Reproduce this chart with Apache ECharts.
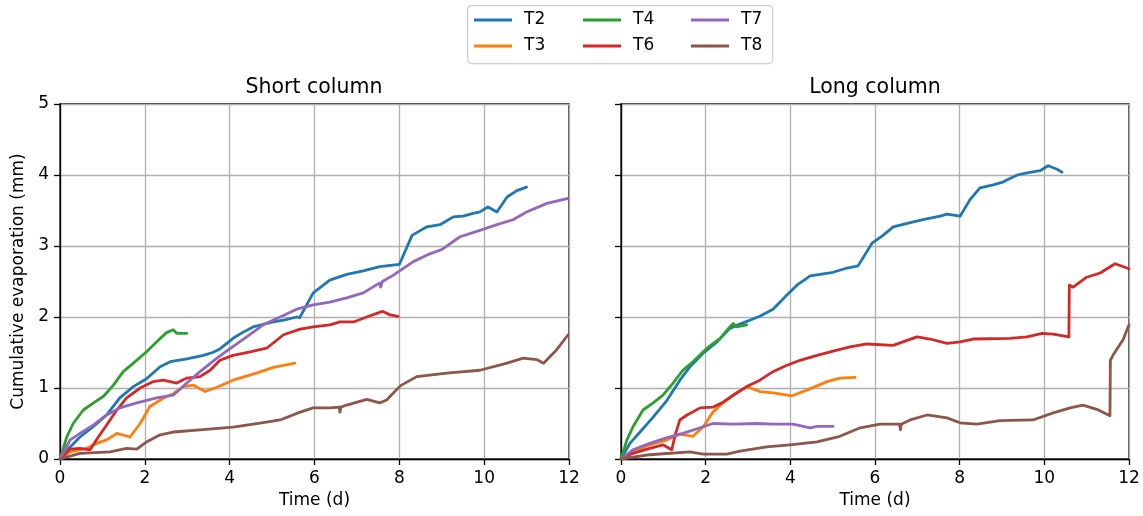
<!DOCTYPE html>
<html>
<head>
<meta charset="utf-8">
<script src="https://cdn.jsdelivr.net/npm/echarts@6/dist/echarts.min.js"></script>
<style>
html,body{margin:0;padding:0;background:#fff;}
#chart{width:1143px;height:516px;}
</style>
</head>
<body>
<div id="chart"></div>
<script>
// ---- Data (time in days, cumulative evaporation in mm) ----
const seriesNames = ['T2', 'T3', 'T4', 'T6', 'T7', 'T8'];
const panelTitles = ['Short column', 'Long column'];
const xTicks = [0, 2, 4, 6, 8, 10, 12];
const yTicks = [0, 1, 2, 3, 4, 5];

const shortT2 = [[0,0],[0.24,0.17],[0.47,0.31],[0.79,0.46],[1.1,0.62],[1.41,0.86],[1.73,1.02],[2.04,1.13],[2.36,1.3],[2.6,1.37],[2.99,1.41],[3.38,1.46],[3.6,1.5],[3.77,1.55],[4.08,1.7],[4.3,1.78],[4.55,1.86],[5.03,1.93],[5.3,1.96],[5.58,2.0],[5.65,1.99],[5.97,2.34],[6.36,2.52],[6.76,2.6],[7.15,2.65],[7.54,2.71],[8.0,2.74],[8.3,3.15],[8.5,3.22],[8.65,3.27],[8.96,3.3],[9.27,3.41],[9.5,3.42],[9.74,3.46],[9.9,3.48],[10.09,3.55],[10.3,3.48],[10.54,3.69],[10.77,3.78],[11.0,3.83]];
const shortT3 = [[0,0],[0.24,0.1],[0.63,0.15],[0.86,0.22],[1.1,0.27],[1.34,0.36],[1.65,0.31],[1.89,0.5],[2.12,0.74],[2.44,0.86],[2.67,0.92],[2.91,1.02],[3.15,1.04],[3.42,0.95],[3.7,1.01],[4.08,1.11],[4.63,1.21],[5.03,1.29],[5.54,1.35]];
const shortT4 = [[0,0],[0.16,0.31],[0.31,0.5],[0.55,0.69],[0.79,0.79],[1.02,0.88],[1.26,1.04],[1.49,1.23],[1.73,1.35],[2.04,1.51],[2.28,1.65],[2.51,1.78],[2.67,1.82],[2.75,1.77],[2.99,1.77]];
const shortT6 = [[0,0],[0.24,0.14],[0.47,0.15],[0.71,0.13],[0.86,0.27],[1.1,0.48],[1.34,0.69],[1.57,0.86],[1.89,1.0],[2.2,1.09],[2.44,1.11],[2.75,1.07],[2.99,1.14],[3.3,1.16],[3.54,1.25],[3.77,1.39],[4.08,1.46],[4.48,1.51],[4.87,1.56],[5.27,1.75],[5.66,1.83],[5.97,1.86],[6.36,1.89],[6.6,1.93],[6.92,1.93],[7.23,2.0],[7.6,2.08],[7.78,2.03],[7.97,2.01]];
const shortT7 = [[0,0],[0.24,0.27],[0.47,0.36],[0.79,0.48],[1.1,0.62],[1.41,0.72],[1.81,0.79],[2.28,0.86],[2.67,0.9],[2.99,1.07],[3.3,1.23],[3.7,1.42],[4.0,1.55],[4.4,1.72],[4.79,1.89],[5.19,2.0],[5.58,2.11],[5.97,2.17],[6.36,2.21],[6.76,2.27],[7.15,2.34],[7.54,2.48],[7.56,2.42],[7.6,2.5],[7.86,2.59],[8.33,2.78],[8.72,2.89],[9.0,2.95],[9.43,3.13],[9.9,3.22],[10.3,3.3],[10.68,3.37],[11.0,3.48],[11.48,3.6],[11.98,3.67]];
const shortT8 = [[0,0],[0.47,0.08],[1.18,0.1],[1.57,0.15],[1.81,0.14],[2.04,0.24],[2.36,0.34],[2.67,0.38],[3.3,0.41],[4.08,0.45],[4.87,0.52],[5.19,0.55],[5.66,0.66],[5.97,0.72],[6.36,0.72],[6.58,0.73],[6.6,0.66],[6.62,0.73],[6.76,0.76],[7.23,0.84],[7.54,0.79],[7.7,0.83],[8.02,1.03],[8.41,1.16],[9.12,1.21],[9.9,1.25],[10.54,1.35],[10.92,1.42],[11.24,1.4],[11.4,1.35],[11.71,1.54],[11.98,1.75]];

const longT2 = [[0,0],[0.21,0.22],[0.45,0.38],[0.76,0.59],[1.09,0.83],[1.39,1.11],[1.63,1.3],[1.94,1.49],[2.27,1.65],[2.57,1.84],[2.81,1.9],[3.28,2.01],[3.59,2.11],[3.92,2.31],[4.18,2.46],[4.47,2.58],[5.01,2.63],[5.34,2.69],[5.6,2.72],[5.93,3.04],[6.19,3.15],[6.43,3.27],[6.76,3.32],[7.13,3.37],[7.54,3.42],[7.7,3.45],[8.01,3.42],[8.24,3.65],[8.48,3.82],[8.79,3.86],[9.02,3.9],[9.36,4.0],[9.59,4.03],[9.9,4.06],[10.09,4.13],[10.3,4.08],[10.42,4.04]];
const longT3 = [[0,0],[0.28,0.1],[0.68,0.2],[1.09,0.27],[1.39,0.35],[1.7,0.32],[1.94,0.45],[2.17,0.66],[2.41,0.79],[2.73,0.93],[2.97,1.02],[3.28,0.95],[3.59,0.93],[4.04,0.89],[4.39,0.97],[4.87,1.09],[5.17,1.14],[5.53,1.15]];
const longT4 = [[0,0],[0.14,0.27],[0.28,0.45],[0.52,0.69],[0.76,0.79],[0.99,0.9],[1.23,1.07],[1.46,1.25],[1.7,1.37],[2.03,1.56],[2.34,1.7],[2.57,1.86],[2.65,1.91],[2.73,1.86],[2.97,1.89]];
const longT6 = [[0,0],[0.28,0.08],[0.68,0.15],[0.99,0.2],[1.2,0.13],[1.28,0.34],[1.39,0.55],[1.56,0.62],[1.87,0.72],[2.17,0.73],[2.41,0.8],[2.73,0.93],[2.97,1.02],[3.28,1.11],[3.59,1.23],[3.92,1.32],[4.23,1.39],[4.63,1.46],[5.01,1.52],[5.41,1.58],[5.81,1.62],[6.43,1.6],[6.99,1.72],[7.3,1.69],[7.7,1.63],[8.01,1.65],[8.32,1.69],[9.19,1.7],[9.59,1.72],[9.95,1.77],[10.21,1.76],[10.58,1.72],[10.59,2.45],[10.68,2.42],[11.0,2.56],[11.32,2.62],[11.67,2.75],[12.0,2.68]];
const longT7 = [[0,0],[0.28,0.13],[0.68,0.22],[1.09,0.3],[1.46,0.36],[1.87,0.44],[2.17,0.5],[2.65,0.49],[3.21,0.5],[3.59,0.49],[4.06,0.49],[4.47,0.44],[4.63,0.46],[5.01,0.46]];
const longT8 = [[0,0],[0.68,0.06],[1.63,0.1],[1.94,0.07],[2.5,0.07],[2.81,0.11],[3.44,0.17],[3.99,0.2],[4.63,0.24],[5.17,0.32],[5.65,0.44],[6.12,0.49],[6.58,0.49],[6.6,0.41],[6.62,0.49],[6.83,0.55],[7.23,0.62],[7.7,0.58],[8.01,0.51],[8.41,0.49],[8.95,0.54],[9.73,0.55],[10.21,0.65],[10.61,0.72],[10.91,0.76],[11.24,0.7],[11.55,0.61],[11.56,1.39],[11.62,1.46],[11.86,1.68],[12.0,1.89]];

const colors = {T2:'#1f77b4', T3:'#ff7f0e', T4:'#2ca02c', T6:'#d62728', T7:'#9467bd', T8:'#8c564b'};
const shortData = {T2:shortT2, T3:shortT3, T4:shortT4, T6:shortT6, T7:shortT7, T8:shortT8};
const longData = {T2:longT2, T3:longT3, T4:longT4, T6:longT6, T7:longT7, T8:longT8};

const FONT = 'DejaVu Sans';
const chart = echarts.init(document.getElementById('chart'));

function xAxisDef(gridIndex){
  return {
    type:'value', gridIndex, min:0, max:12, interval:2,
    name:'Time (d)', nameLocation:'middle', nameGap:30,
    nameTextStyle:{fontFamily:FONT, fontSize:17, color:'#000'},
    axisLine:{show:true, onZero:false, lineStyle:{color:'#000', width:1.3}},
    axisTick:{show:true, inside:false, length:6, lineStyle:{color:'#000', width:1.3}},
    axisLabel:{show:true, margin:11, fontFamily:FONT, fontSize:17, color:'#000'},
    splitLine:{show:true, lineStyle:{color:'#b0b0b0', width:1.3}}
  };
}
function yAxisDef(gridIndex, showLabels){
  return {
    type:'value', gridIndex, min:0, max:5, interval:1,
    name: showLabels ? 'Cumulative evaporation (mm)' : '',
    nameLocation:'middle', nameGap:33,
    nameTextStyle:{fontFamily:FONT, fontSize:17, color:'#000'},
    axisLine:{show:true, onZero:false, lineStyle:{color:'#000', width:1.3}},
    axisTick:{show:true, inside:false, length:6, lineStyle:{color:'#000', width:1.3}},
    axisLabel:{show:showLabels, margin:11, fontFamily:FONT, fontSize:17, color:'#000'},
    splitLine:{show:true, lineStyle:{color:'#b0b0b0', width:1.3}}
  };
}

const series = [];
[shortData, longData].forEach((d, gi) => {
  seriesNames.forEach(n => {
    series.push({
      type:'line', name:n, xAxisIndex:gi, yAxisIndex:gi,
      data:d[n], showSymbol:false, symbol:'none',
      lineStyle:{color:colors[n], width:2.8, cap:'round', join:'round'},
      itemStyle:{color:colors[n]},
      z: 3
    });
  });
});

// legend: column-major layout like the reference (T2,T3 | T4,T6 | T7,T8)
const legendCols = [474, 583, 691];
const legendRows = [11.5, 37.5];
const legendOrder = [['T2','T3'],['T4','T6'],['T7','T8']];
const legends = [];
legendOrder.forEach((col, ci) => {
  col.forEach((n, ri) => {
    legends.push({
      data:[n], left:legendCols[ci], top:legendRows[ri],
      icon:'rect', itemWidth:38, itemHeight:2.8, selectedMode:false,
      padding:0,
      textStyle:{fontFamily:FONT, fontSize:17, color:'#000', padding:[0,0,0,7]}
    });
  });
});

chart.setOption({
  animation:false,
  backgroundColor:'#fff',
  title:[
    {text:panelTitles[0], left:309, top:72, textAlign:'center', textStyle:{fontFamily:FONT, fontSize:20.5, fontWeight:'normal', color:'#000'}},
    {text:panelTitles[1], left:870, top:72, textAlign:'center', textStyle:{fontFamily:FONT, fontSize:20.5, fontWeight:'normal', color:'#000'}}
  ],
  legend: legends,
  graphic:[{
    type:'rect', left:467, top:5, shape:{width:305, height:58, r:4},
    style:{fill:'rgba(255,255,255,0.8)', stroke:'#cccccc', lineWidth:1.2}, z:-1
  }],
  grid:[
    {left:60, top:104, width:509, height:355, show:true, borderColor:'#000', borderWidth:1.3, backgroundColor:'transparent'},
    {left:621, top:104, width:508, height:355, show:true, borderColor:'#000', borderWidth:1.3, backgroundColor:'transparent'}
  ],
  xAxis:[xAxisDef(0), xAxisDef(1)],
  yAxis:[yAxisDef(0, true), yAxisDef(1, false)],
  series
});
</script>
</body>
</html>
